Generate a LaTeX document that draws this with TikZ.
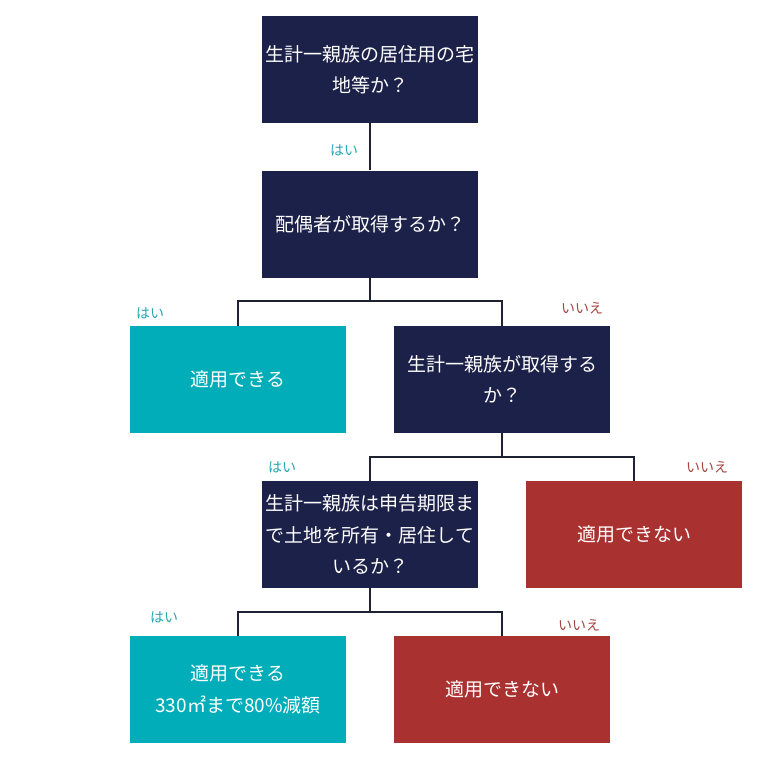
\documentclass[tikz,border=0pt]{standalone}
\usepackage{fontspec}
\setmainfont{Noto Sans CJK JP}
\usetikzlibrary{positioning}
\definecolor{navy}{HTML}{1C2149}
\definecolor{tealbox}{HTML}{00ADB9}
\definecolor{redbox}{HTML}{A93230}
\definecolor{tealtext}{HTML}{27A5B2}
\definecolor{redtext}{HTML}{A5433F}
\definecolor{linecol}{HTML}{1E2233}
\tikzset{
  box/.style={rectangle,minimum width=216pt,minimum height=107pt,inner sep=0pt,
    text=white,align=center,font=\fontsize{19}{31.5}\selectfont},
  qbox/.style={box,fill=navy},
  okbox/.style={box,fill=tealbox},
  ngbox/.style={box,fill=redbox},
  yes/.style={text=tealtext,font=\fontsize{14}{16}\selectfont},
  no/.style={text=redtext,font=\fontsize{14}{16}\selectfont},
  link/.style={line width=2pt,draw=linecol}
}
\begin{document}
\begin{tikzpicture}[x=1pt,y=-1pt]
  \useasboundingbox (0,0) rectangle (762,764);
  \node[qbox] (q1) at (370,69.5) {生計一親族の居住用の宅\\地等か？};
  \node[qbox] (q2) at (370,224) {配偶者が取得するか？};
  \node[okbox] (ok1) at (238,379.5) {適用できる};
  \node[qbox] (q3) at (502,379.5) {生計一親族が取得する\\か？};
  \node[qbox] (q4) at (370,534.5) {生計一親族は申告期限ま\\で土地を所有・居住して\\いるか？};
  \node[ngbox] (ng1) at (634,534.5) {適用できない};
  \node[okbox] (ok2) at (238,689.5) {適用できる\\330㎡まで80\%減額};
  \node[ngbox] (ng2) at (502,689.5) {適用できない};
  % connectors
  \draw[link] (q1) -- (q2);
  \draw[link] (q2.south) -- ++(0,23) -| (ok1.north);
  \draw[link] (q2.south) -- ++(0,23) -| (q3.north);
  \draw[link] (q3.south) -- ++(0,24) -| (q4.north);
  \draw[link] (q3.south) -- ++(0,24) -| (ng1.north);
  \draw[link] (q4.south) -- ++(0,24) -| (ok2.north);
  \draw[link] (q4.south) -- ++(0,24) -| (ng2.north);
  % labels
  \node[yes] (y1) at (344,150) {はい};
  \node[yes] (y2) at (150,313) {はい};
  \node[no] (n2) at (582,308) {いいえ};
  \node[yes] (y3) at (282,467) {はい};
  \node[no] (n3) at (707,467) {いいえ};
  \node[yes] (y4) at (164,617) {はい};
  \node[no] (n4) at (579,625) {いいえ};
\end{tikzpicture}
\end{document}
